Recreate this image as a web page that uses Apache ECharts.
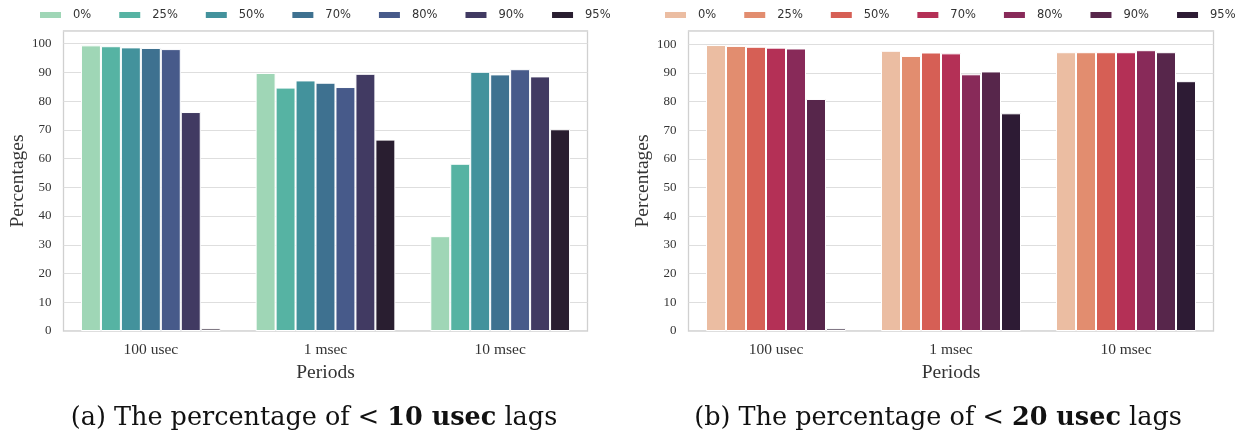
<!DOCTYPE html>
<html>
<head>
<meta charset="utf-8">
<title>Lag percentages</title>
<script src="https://cdn.jsdelivr.net/npm/echarts@6/dist/echarts.min.js"></script>
<style>
  html, body { margin: 0; padding: 0; background: #fff; }
  #chart { width: 1245px; height: 439px; }
</style>
</head>
<body>
<div id="chart"></div>
<script>
// categories and legend labels
const periods = ['100 usec', '1 msec', '10 msec']
const levels = ['0%', '25%', '50%', '70%', '80%', '90%', '95%']

// (a) percentage of < 10 usec lags, one array per level, values per period
const lagA = {
  '0%': [99.4, 89.8, 33.0],
  '25%': [99.1, 84.7, 58.2],
  '50%': [98.7, 87.2, 90.2],
  '70%': [98.5, 86.4, 89.3],
  '80%': [98.1, 84.9, 91.1],
  '90%': [76.2, 89.5, 88.6],
  '95%': [0.9, 66.6, 70.2]
}

// (b) percentage of < 20 usec lags
const lagB = {
  '0%': [99.7, 97.7, 97.2],
  '25%': [99.4, 95.9, 97.2],
  '50%': [99.1, 97.1, 97.2],
  '70%': [98.8, 96.8, 97.2],
  '80%': [98.5, 89.5, 97.9],
  '90%': [80.9, 90.5, 97.2],
  '95%': [0.9, 75.9, 87.1]
}

const colorsA = ['#9fd6b6', '#56b3a3', '#43929c', '#3e7190', '#475a8a', '#413a62', '#291e30']
const colorsB = ['#ebbda2', '#e28d6f', '#d65f55', '#b43056', '#882a59', '#57264b', '#2d1b34']

const serif = '"Liberation Serif", "DejaVu Serif", serif'
const sans = '"DejaVu Sans", sans-serif'

const chart = echarts.init(document.getElementById('chart'))

// build axes for one panel
const makeXAxis = (gridIndex) => ({
  type: 'category',
  gridIndex,
  data: periods,
  axisTick: { show: false },
  axisLine: { show: false },
  axisLabel: { color: '#333', fontFamily: serif, fontSize: 15.5, margin: 11 },
  name: 'Periods',
  nameLocation: 'middle',
  nameGap: 28,
  nameTextStyle: { color: '#333', fontFamily: serif, fontSize: 19.5 }
})

const makeYAxis = (gridIndex, max) => ({
  type: 'value',
  gridIndex,
  min: 0,
  max,
  interval: 10,
  axisTick: { show: false },
  axisLine: { show: false },
  axisLabel: {
    color: '#333',
    fontFamily: serif,
    fontSize: 13,
    margin: 12,
    formatter: v => (v % 10 === 0 ? v : '')
  },
  splitLine: { lineStyle: { color: '#dedede', width: 1.2 } },
  name: 'Percentages',
  nameLocation: 'middle',
  nameGap: 36,
  nameTextStyle: { color: '#333', fontFamily: serif, fontSize: 19.5 }
})

// series for one panel, names get a suffix so both legends keep own colours
const makeSeries = (data, colors, idx, suffix) => levels.map((lv, i) => ({
  name: lv + suffix,
  type: 'bar',
  xAxisIndex: idx,
  yAxisIndex: idx,
  data: data[lv],
  barGap: '0%',
  barCategoryGap: '20%',
  itemStyle: { color: colors[i], borderColor: '#fff', borderWidth: 1 }
}))

const makeLegend = (left, suffix) => ({
  left,
  top: 9,
  width: 620,
  padding: 0,
  itemWidth: 23,
  itemHeight: 8,
  itemGap: 26,
  icon: 'rect',
  data: levels.map(lv => lv + suffix),
  formatter: n => n.replace(suffix, ''),
  textStyle: { color: '#333', fontFamily: sans, fontSize: 11.5, padding: [0, 0, 0, 6] }
})

const caption = (x, num) => ({
  type: 'text',
  x,
  y: 418,
  style: {
    text: '{n|(' + num[0] + ') The percentage of < }{b|' + num[1] + '}{n| lags}',
    align: 'center',
    verticalAlign: 'middle',
    rich: {
      n: { fontFamily: '"DejaVu Serif", serif', fontSize: 25.5, fill: '#111' },
      b: { fontFamily: '"DejaVu Serif", serif', fontSize: 25.5, fontWeight: 'bold', fill: '#111' }
    }
  }
})

const option = {
  animation: false,
  legend: [makeLegend(38, ''), makeLegend(663, ' ')],
  grid: [
    { left: 63.5, top: 31, width: 524, height: 300, show: true, borderColor: '#d0d0d0', borderWidth: 1.3, backgroundColor: '#fff' },
    { left: 688.5, top: 31, width: 525, height: 300, show: true, borderColor: '#d0d0d0', borderWidth: 1.3, backgroundColor: '#fff' }
  ],
  xAxis: [makeXAxis(0), makeXAxis(1)],
  yAxis: [makeYAxis(0, 104.4), makeYAxis(1, 104.6)],
  series: [
    ...makeSeries(lagA, colorsA, 0, ''),
    ...makeSeries(lagB, colorsB, 1, ' ')
  ],
  graphic: [caption(314, ['a', '10 usec']), caption(938, ['b', '20 usec'])]
}

chart.setOption(option)
</script>
</body>
</html>
